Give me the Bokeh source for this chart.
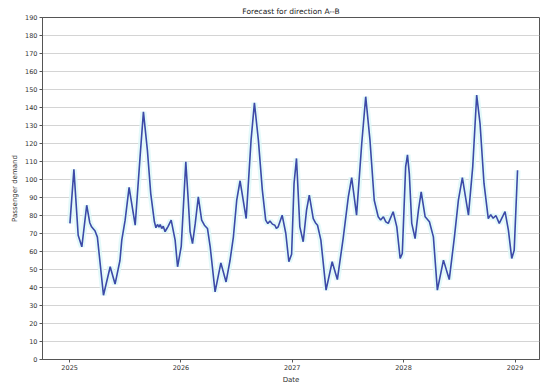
import pandas as pd
from bokeh.plotting import figure
from bokeh.models import FixedTicker, DatetimeTickFormatter, ColumnDataSource
from bokeh.embed import file_html
from bokeh.resources import INLINE

dates = [
    "2025-01-02", "2025-01-15", "2025-01-29", "2025-02-10", "2025-02-26", "2025-03-08",
    "2025-03-14", "2025-03-20", "2025-03-25", "2025-04-02", "2025-04-22", "2025-05-14",
    "2025-05-30", "2025-06-15", "2025-06-21", "2025-07-02", "2025-07-15", "2025-08-04",
    "2025-08-20", "2025-08-31", "2025-09-13", "2025-09-24", "2025-10-06", "2025-10-11",
    "2025-10-16", "2025-10-21", "2025-10-25", "2025-10-30", "2025-11-04", "2025-11-10",
    "2025-11-15", "2025-11-20", "2025-11-30", "2025-12-13", "2025-12-21",
    "2026-01-02", "2026-01-17", "2026-01-25", "2026-01-31", "2026-02-08", "2026-02-17",
    "2026-02-27", "2026-03-10", "2026-03-19", "2026-03-29", "2026-04-07", "2026-04-23",
    "2026-05-12", "2026-05-29", "2026-06-11", "2026-06-22", "2026-07-03", "2026-07-14",
    "2026-08-03", "2026-08-19", "2026-08-30", "2026-09-12", "2026-09-25", "2026-10-06",
    "2026-10-13", "2026-10-20", "2026-10-28", "2026-11-05", "2026-11-10", "2026-11-16",
    "2026-11-29", "2026-12-11", "2026-12-21", "2026-12-30",
    "2027-01-07", "2027-01-15", "2027-01-26", "2027-02-06", "2027-02-17", "2027-02-26",
    "2027-03-11", "2027-03-18", "2027-03-25", "2027-04-05", "2027-04-22", "2027-05-12",
    "2027-05-29", "2027-06-17", "2027-07-04", "2027-07-15", "2027-07-31", "2027-08-17",
    "2027-08-30", "2027-09-13", "2027-09-27", "2027-10-10", "2027-10-18", "2027-10-27",
    "2027-11-04", "2027-11-12", "2027-11-28", "2027-12-10", "2027-12-21", "2027-12-28",
    "2028-01-08", "2028-01-14", "2028-01-20", "2028-01-28", "2028-02-08", "2028-02-19",
    "2028-02-28", "2028-03-12", "2028-03-26", "2028-04-08", "2028-04-21", "2028-05-11",
    "2028-05-30", "2028-06-16", "2028-06-29", "2028-07-12", "2028-08-01", "2028-08-15",
    "2028-08-28", "2028-09-08", "2028-09-21", "2028-10-05", "2028-10-13", "2028-10-21",
    "2028-10-30", "2028-11-10", "2028-11-29", "2028-12-10", "2028-12-21", "2028-12-29",
    "2029-01-09",
]
demand = [
    75.6, 105.6, 69.0, 62.6, 85.7, 76.0,
    73.7, 72.5, 71.5, 68.0, 35.7, 51.5,
    41.9, 55.0, 66.3, 77.4, 95.6, 74.6,
    112.6, 137.6, 116.3, 92.2, 76.5, 73.2,
    75.0, 73.5, 75.0, 72.8, 74.0, 71.0,
    72.5, 74.0, 77.4, 66.3, 51.5,
    62.8, 109.8, 88.5, 71.0, 64.4, 75.6,
    90.4, 77.4, 74.6, 72.8, 62.6, 37.6,
    53.7, 43.1, 55.0, 68.0, 88.5, 99.3,
    78.3, 121.9, 142.6, 121.9, 94.1, 77.4,
    75.5, 77.0, 75.2, 74.6, 72.8, 73.7,
    80.2, 70.0, 54.3, 58.5,
    97.8, 111.7, 73.7, 65.4, 83.0, 91.3,
    78.3, 76.0, 74.6, 66.3, 38.5, 54.3,
    44.4, 67.2, 90.4, 101.1, 80.2, 120.0,
    146.0, 121.9, 88.5, 79.3, 77.5, 79.3,
    76.5, 75.6, 82.1, 73.7, 56.1, 58.9,
    107.0, 113.7, 103.3, 75.6, 67.2, 83.0,
    93.1, 79.3, 76.5, 68.1, 38.5, 55.2,
    44.4, 68.1, 88.5, 101.1, 80.2, 107.0,
    146.9, 131.1, 97.8, 78.3, 80.5, 78.5,
    80.0, 75.6, 82.1, 71.9, 56.1, 60.7,
    105.1,
]
year_ticks = ["2025-01-01", "2026-01-01", "2027-01-01", "2028-01-01", "2029-01-01"]
y_ticks = [0, 10, 20, 30, 40, 50, 60, 70, 80, 90, 100, 110, 120, 130, 140, 150, 160, 170, 180, 190]

src = ColumnDataSource(dict(x=pd.to_datetime(dates), y=demand))

FONT = "DejaVu Sans"
p = figure(width=542, height=386, x_axis_type="datetime",
           x_range=(pd.Timestamp("2024-10-04"), pd.Timestamp("2029-03-22")),
           y_range=(0, 190), output_backend="svg", toolbar_location=None,
           title="Forecast for direction A--B",
           min_border_left=42, min_border_right=3, min_border_top=17, min_border_bottom=25)

p.title.align = "center"
p.title.text_font = FONT
p.title.text_font_size = "7.5px"
p.title.text_font_style = "normal"
p.title.text_color = "#222222"
p.title.standoff = 3

p.line("x", "y", source=src, color="#dcf8f8", line_width=6, line_alpha=0.8)
p.line("x", "y", source=src, color="#3c4aa8", line_width=1.6)

p.xaxis.ticker = FixedTicker(ticks=[pd.Timestamp(t).value / 1e6 for t in year_ticks])
p.xaxis.formatter = DatetimeTickFormatter(years="%Y", months="%Y", days="%Y", hours="%Y",
                                          hourmin="%Y", minutes="%Y", minsec="%Y",
                                          seconds="%Y", milliseconds="%Y", microseconds="%Y")
p.yaxis.ticker = FixedTicker(ticks=y_ticks)

for ax in (p.xaxis[0], p.yaxis[0]):
    ax.major_label_text_font = FONT
    ax.major_label_text_font_size = "6.5px"
    ax.major_label_text_color = "#333333"
    ax.axis_label_text_font = FONT
    ax.axis_label_text_font_size = "7px"
    ax.axis_label_text_font_style = "normal"
    ax.axis_label_text_color = "#333333"
    ax.axis_line_color = "#555555"
    ax.major_tick_line_color = "#555555"
    ax.major_tick_out = 3
    ax.major_tick_in = 0
    ax.minor_tick_out = 0
    ax.minor_tick_in = 0
    ax.major_label_standoff = 2
    ax.axis_label_standoff = 3

p.xaxis.axis_label = "Date"
p.yaxis.axis_label = "Passenger demand"

p.xgrid.grid_line_color = None
p.ygrid.grid_line_color = "#d4d4d4"
p.ygrid.grid_line_width = 1
p.outline_line_color = "#555555"
p.outline_line_width = 1

open("out.html", "w").write(file_html(p, INLINE))
